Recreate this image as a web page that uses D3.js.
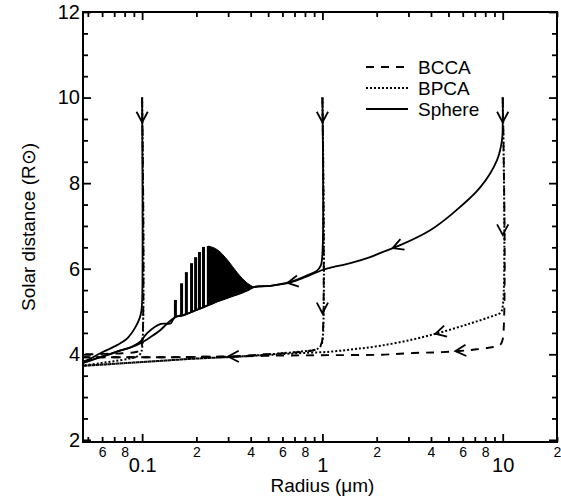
<!DOCTYPE html>
<html>
<head>
<meta charset="utf-8">
<script src="https://cdn.jsdelivr.net/npm/d3@7"></script>
<style>
  body { margin: 0; background: #fff; }
  text { font-family: "Liberation Sans", Arial, sans-serif; fill: #000; }
</style>
</head>
<body>
<div id="chart"></div>
<script>
// ---- data: radius (um) and solar distance (R_sun) along each trajectory ----
const sphere10R = [10, 10, 9.9, 9.3, 7.5, 5.3, 3.96, 2.7, 2.1, 1.84, 1.43, 1.1, 1, 0.8, 0.665, 0.515, 0.415, 0.384, 0.338, 0.298, 0.262, 0.233, 0.219, 0.208, 0.198, 0.188, 0.176, 0.1655, 0.153, 0.138, 0.125, 0.111, 0.098, 0.088, 0.076, 0.066, 0.059, 0.0506, 0.047];
const sphere10D = [10, 9.4, 9.0, 8.54, 7.9, 7.3, 6.9, 6.55, 6.37, 6.27, 6.13, 6.02, 5.97, 5.8, 5.68, 5.6, 5.57, 5.49, 5.4, 5.32, 5.24, 5.15, 5.1, 5.06, 5.03, 4.99, 4.94, 4.9, 4.87, 4.72, 4.55, 4.4, 4.26, 4.17, 4.09, 4.0, 3.94, 3.84, 3.8];

const sphere1R = [1, 1, 0.98, 0.93, 0.85, 0.665, 0.515, 0.415, 0.233, 0.176, 0.153, 0.148, 0.144, 0.127, 0.107, 0.098, 0.088, 0.076, 0.059, 0.047];
const sphere1D = [10, 6.35, 6.08, 5.95, 5.87, 5.69, 5.6, 5.57, 5.15, 4.94, 4.87, 4.8, 4.72, 4.71, 4.5, 4.3, 4.18, 4.09, 3.94, 3.8];

const sphere01R = [0.1, 0.1, 0.099, 0.097, 0.092, 0.083, 0.073, 0.059, 0.05, 0.047];
const sphere01D = [10, 5.25, 5.0, 4.85, 4.64, 4.38, 4.22, 4.03, 3.87, 3.83];

// oscillation of the 10 um sphere: separate spikes, then the dense band
const spikeR = [0.153, 0.1655, 0.176, 0.188, 0.198, 0.208, 0.219, 0.233];
const spikeBase = [4.87, 4.9, 4.94, 4.99, 5.03, 5.06, 5.1, 5.15];
const spikeTop = [5.27, 5.66, 5.92, 6.13, 6.27, 6.39, 6.51, 6.53];
const bandR = [0.233, 0.262, 0.298, 0.338, 0.384, 0.415];
const bandTop = [6.53, 6.44, 6.2, 5.9, 5.66, 5.57];
const bandBottom = [5.15, 5.24, 5.32, 5.4, 5.49, 5.57];

const bcca10R = [10, 10, 9.7, 8.86, 6.6, 4.6, 3.2, 2.1, 1.1, 0.6, 0.32, 0.2, 0.13, 0.085, 0.047];
const bcca10D = [10, 4.35, 4.22, 4.17, 4.1, 4.05, 4.03, 3.99, 3.98, 3.97, 3.95, 3.94, 3.93, 3.93, 3.93];
const bcca1R = [1, 1, 0.98, 0.95, 0.9, 0.785, 0.585, 0.47, 0.32, 0.2, 0.13, 0.085, 0.047];
const bcca1D = [10, 4.35, 4.22, 4.15, 4.1, 4.06, 4.02, 4.0, 3.95, 3.94, 3.93, 3.93, 3.93];
const bcca01R = [0.1, 0.1, 0.098, 0.095, 0.088, 0.075, 0.062, 0.053, 0.047];
const bcca01D = [10, 4.25, 4.12, 4.07, 4.04, 4.02, 4.01, 4.0, 4.0];

const bpca10R = [10, 10, 9.7, 8.86, 6.6, 4.6, 3.2, 2.1, 1.5, 1.1, 0.78, 0.58, 0.32, 0.2, 0.13, 0.085, 0.047];
const bpca10D = [10, 5.12, 4.97, 4.9, 4.72, 4.52, 4.35, 4.2, 4.12, 4.06, 4.03, 4.0, 3.94, 3.9, 3.85, 3.8, 3.73];
const bpca1R = [1, 1, 0.98, 0.95, 0.9, 0.785, 0.585, 0.45, 0.32, 0.2, 0.13, 0.085, 0.047];
const bpca1D = [10, 4.3, 4.2, 4.14, 4.1, 4.07, 4.02, 3.98, 3.94, 3.9, 3.85, 3.8, 3.73];
const bpca01R = [0.1, 0.1, 0.098, 0.094, 0.085, 0.07, 0.058, 0.047];
const bpca01D = [10, 4.15, 4.02, 3.95, 3.9, 3.84, 3.79, 3.74];

// arrows: downward ones at (radius, distance), leftward ones on a trajectory at a radius
const downArrowR = [0.1, 1, 10, 1, 10];
const downArrowD = [9.42, 9.42, 9.42, 4.96, 6.79];
const leftArrows = [["sphere10", 2.45], ["sphere10", 0.64], ["bpca10", 4.23], ["bcca10", 5.46], ["bcca10", 0.30]];

const xMajor = [0.1, 1, 10];
const xMinor = [0.05, 0.06, 0.07, 0.08, 0.09, 0.2, 0.3, 0.4, 0.5, 0.6, 0.7, 0.8, 0.9, 2, 3, 4, 5, 6, 7, 8, 9, 20];
const xMinorShown = [2, 4, 6, 8];
const yMajor = [2, 4, 6, 8, 10, 12];
const yMinor = [2.5, 3, 3.5, 4.5, 5, 5.5, 6.5, 7, 7.5, 8.5, 9, 9.5, 10.5, 11, 11.5];

const legendNames = ["BCCA", "BPCA", "Sphere"];

// ---- layout ----
const margin = {top: 12, right: 4, bottom: 59, left: 83},
      width = 561 - margin.left - margin.right,
      height = 501 - margin.top - margin.bottom;

const x = d3.scaleLog().domain([0.047, 20]).range([0, width]),
      y = d3.scaleLinear().domain([1.95, 12]).range([height, 0]);

const svg = d3.select("#chart").append("svg")
    .attr("width", 561).attr("height", 501)
  .append("g")
    .attr("transform", "translate(" + margin.left + "," + margin.top + ")");

svg.append("clipPath").attr("id", "plot")
  .append("rect").attr("width", width).attr("height", height);

const styles = {
  solid: {dash: null, w: 1.8},
  dashed: {dash: "8,7", w: 1.9},
  dotted: {dash: "2,2", w: 2}
};

const line = d3.line().x(d => x(d[0])).y(d => y(d[1])).curve(d3.curveCatmullRom.alpha(0.5));
const plot = svg.append("g").attr("clip-path", "url(#plot)");

const series = {
  sphere10: [sphere10R, sphere10D, "solid"],
  sphere1: [sphere1R, sphere1D, "solid"],
  sphere01: [sphere01R, sphere01D, "solid"],
  bcca10: [bcca10R, bcca10D, "dashed"],
  bcca1: [bcca1R, bcca1D, "dashed"],
  bcca01: [bcca01R, bcca01D, "dashed"],
  bpca10: [bpca10R, bpca10D, "dotted"],
  bpca1: [bpca1R, bpca1D, "dotted"],
  bpca01: [bpca01R, bpca01D, "dotted"]
};

Object.keys(series).forEach(function(k) {
  const s = series[k], st = styles[s[2]];
  plot.append("path")
    .datum(d3.zip(s[0], s[1]))
    .attr("d", line)
    .attr("fill", "none")
    .attr("stroke", "#000")
    .attr("stroke-width", st.w)
    .attr("stroke-dasharray", st.dash);
});

// dense oscillation band
const band = d3.area().x(d => x(d[0])).y0(d => y(d[1])).y1(d => y(d[2])).curve(d3.curveMonotoneX);
plot.append("path")
  .datum(d3.zip(bandR, bandBottom, bandTop))
  .attr("d", band)
  .attr("fill", "#000").attr("stroke", "#000").attr("stroke-width", 1);

plot.selectAll(".spike")
  .data(d3.zip(spikeR, spikeBase, spikeTop))
  .enter().append("line")
  .attr("class", "spike")
  .attr("x1", d => x(d[0])).attr("x2", d => x(d[0]))
  .attr("y1", d => y(d[1])).attr("y2", d => y(d[2]))
  .attr("stroke", "#000").attr("stroke-width", 3);

// arrows
function chevron(tip, dir) {
  const L = 12, th = 28 * Math.PI / 180;
  const arm = s => {
    const c = Math.cos(s * th), sn = Math.sin(s * th);
    const dx = dir[0] * c - dir[1] * sn, dy = dir[0] * sn + dir[1] * c;
    return [tip[0] - L * dx, tip[1] - L * dy];
  };
  const a = arm(1), b = arm(-1);
  return "M" + a + "L" + tip + "L" + b;
}

function onSeries(k, r) {
  const s = series[k];
  const pts = d3.zip(s[0], s[1]).map(p => [x(p[0]), y(p[1])]);
  const px = x(r);
  for (let i = 0; i < pts.length - 1; i++) {
    const a = pts[i], b = pts[i + 1];
    if (a[0] !== b[0] && (a[0] - px) * (b[0] - px) <= 0) {
      const t = (px - a[0]) / (b[0] - a[0]);
      const len = Math.hypot(b[0] - a[0], b[1] - a[1]);
      return {tip: [px, a[1] + t * (b[1] - a[1])], dir: [(b[0] - a[0]) / len, (b[1] - a[1]) / len]};
    }
  }
}

const arrowPaths = d3.zip(downArrowR, downArrowD).map(d => chevron([x(d[0]), y(d[1])], [0, 1]))
  .concat(leftArrows.map(a => { const o = onSeries(a[0], a[1]); return chevron(o.tip, o.dir); }));

svg.selectAll(".arrow").data(arrowPaths).enter().append("path")
  .attr("class", "arrow")
  .attr("d", d => d)
  .attr("fill", "none").attr("stroke", "#000").attr("stroke-width", 1.8);

// ---- axes ----
const lead = v => Math.round(v / Math.pow(10, Math.floor(Math.log10(v) + 1e-9)));

function tidy(g) {
  g.select(".domain").remove();
  g.selectAll(".tick line").attr("stroke-width", 1.8);
}

svg.append("g").attr("transform", "translate(0," + height + ")")
  .call(d3.axisBottom(x).tickValues(xMinor).tickSizeInner(-5).tickSizeOuter(0).tickPadding(5)
    .tickFormat(v => xMinorShown.indexOf(lead(v)) >= 0 ? lead(v) : ""))
  .call(tidy)
  .selectAll("text").attr("font-size", 14).attr("font-family", null);

svg.append("g").attr("transform", "translate(0," + height + ")")
  .call(d3.axisBottom(x).tickValues(xMajor).tickSizeInner(-8).tickSizeOuter(0).tickPadding(16)
    .tickFormat(v => String(v)))
  .call(tidy)
  .selectAll("text").attr("font-size", 20).attr("font-family", null);

svg.append("g")
  .call(d3.axisTop(x).tickValues(xMinor).tickSizeInner(-5).tickSizeOuter(0).tickFormat(""))
  .call(tidy);
svg.append("g")
  .call(d3.axisTop(x).tickValues(xMajor).tickSizeInner(-8).tickSizeOuter(0).tickFormat(""))
  .call(tidy);

svg.append("g")
  .call(d3.axisLeft(y).tickValues(yMajor).tickSizeInner(-8).tickSizeOuter(0).tickPadding(3))
  .call(tidy)
  .selectAll("text").attr("font-size", 20).attr("font-family", null);
svg.append("g")
  .call(d3.axisLeft(y).tickValues(yMinor).tickSizeInner(-5).tickSizeOuter(0).tickFormat(""))
  .call(tidy);

svg.append("g").attr("transform", "translate(" + width + ",0)")
  .call(d3.axisRight(y).tickValues(yMajor).tickSizeInner(-8).tickSizeOuter(0).tickFormat(""))
  .call(tidy);
svg.append("g").attr("transform", "translate(" + width + ",0)")
  .call(d3.axisRight(y).tickValues(yMinor).tickSizeInner(-5).tickSizeOuter(0).tickFormat(""))
  .call(tidy);

// frame
svg.append("rect")
  .attr("width", width).attr("height", height)
  .attr("fill", "none").attr("stroke", "#000").attr("stroke-width", 2);

// axis titles
svg.append("text")
  .attr("x", x(1)).attr("y", height + 50)
  .attr("text-anchor", "middle").attr("font-size", 19)
  .text("Radius (μm)");

svg.append("text")
  .attr("transform", "rotate(-90)")
  .attr("x", -height / 2).attr("y", 28 - margin.left)
  .attr("text-anchor", "middle").attr("dominant-baseline", "central").attr("font-size", 19)
  .text("Solar distance (R⊙)");

// legend
const legend = svg.append("g").attr("transform", "translate(283,55)");
legendNames.forEach(function(name, i) {
  const st = styles[["dashed", "dotted", "solid"][i]];
  legend.append("line")
    .attr("x1", 0).attr("x2", 42).attr("y1", i * 21).attr("y2", i * 21)
    .attr("stroke", "#000").attr("stroke-width", st.w)
    .attr("stroke-dasharray", st.dash);
  legend.append("text")
    .attr("x", 52).attr("y", i * 21)
    .attr("dominant-baseline", "central").attr("font-size", 19)
    .text(name);
});
</script>
</body>
</html>
